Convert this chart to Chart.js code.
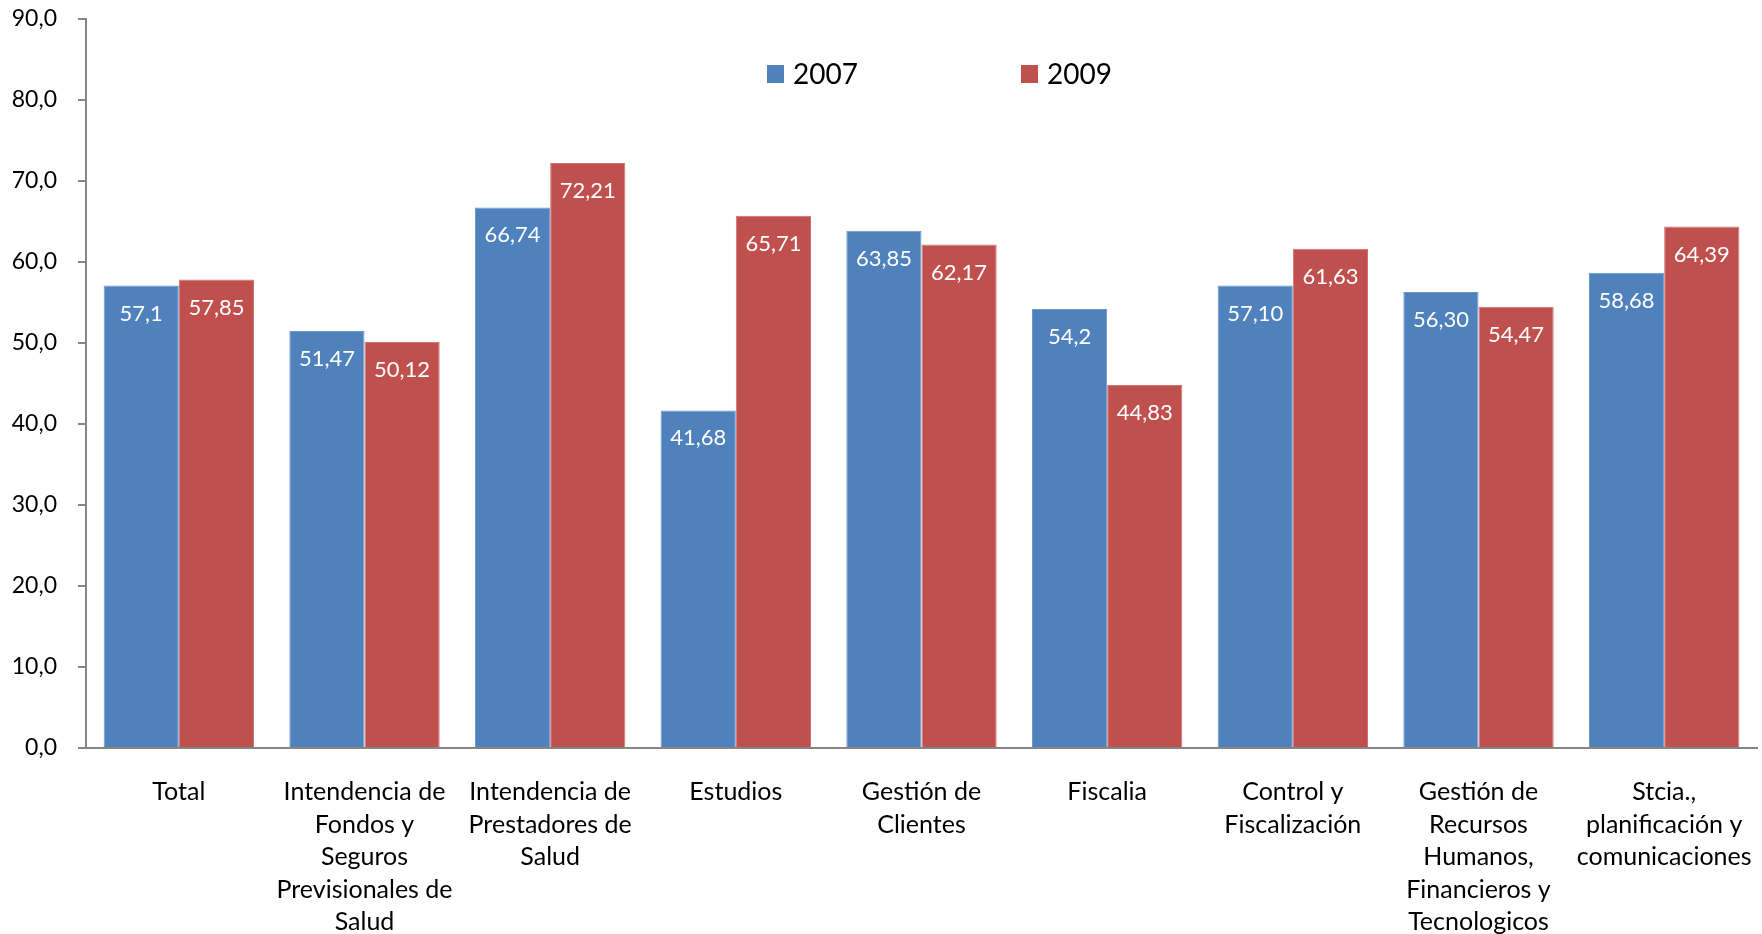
<!DOCTYPE html>
<html>
<head>
<meta charset="utf-8">
<script src="https://cdn.jsdelivr.net/npm/chart.js@4/dist/chart.umd.min.js"></script>
<style>
  html, body { margin: 0; padding: 0; background: #fff; }
  #grafico { display: block; }
</style>
</head>
<body>
<canvas id="grafico" width="1762" height="934"></canvas>
<script>
const unidades = [
    ["Total"],
    ["Intendencia de", "Fondos y", "Seguros", "Previsionales de", "Salud"],
    ["Intendencia de", "Prestadores de", "Salud"],
    ["Estudios"],
    ["Gestión de", "Clientes"],
    ["Fiscalia"],
    ["Control y", "Fiscalización"],
    ["Gestión de", "Recursos", "Humanos,", "Financieros y", "Tecnologicos"],
    ["Stcia.,", "planificación y", "comunicaciones"]
];

// valores tal como aparecen en las etiquetas
const etiquetas2007 = ["57,1", "51,47", "66,74", "41,68", "63,85", "54,2", "57,10", "56,30", "58,68"];
const etiquetas2009 = ["57,85", "50,12", "72,21", "65,71", "62,17", "44,83", "61,63", "54,47", "64,39"];

const series = ["2007", "2009"];
const colores = ["#4F81BD", "#C0504D"];

const FUENTE = "Lato, 'Open Sans', sans-serif";

const aNumero = s => parseFloat(s.replace(",", "."));

const etiquetasBarras = {
    id: "etiquetasBarras",
    afterDatasetsDraw(chart) {
        const { ctx } = chart;
        ctx.save();
        ctx.fillStyle = "#fff";
        ctx.font = `22px ${FUENTE}`;
        ctx.textAlign = "center";
        ctx.textBaseline = "middle";
        chart.data.datasets.forEach((ds, i) => {
            const meta = chart.getDatasetMeta(i);
            meta.data.forEach((bar, j) => {
                ctx.fillText(ds.textos[j], bar.x, bar.y + 28);
            });
        });
        ctx.restore();
    }
};

// leyenda dentro del área del gráfico
const leyenda = {
    id: "leyenda",
    afterDraw(chart) {
        const { ctx } = chart;
        const posX = [767, 1021];
        const y = 74;
        ctx.save();
        ctx.font = `28px ${FUENTE}`;
        ctx.textBaseline = "middle";
        ctx.textAlign = "left";
        chart.data.datasets.forEach((ds, i) => {
            ctx.fillStyle = ds.backgroundColor;
            ctx.fillRect(posX[i], y - 9, 17, 18);
            ctx.fillStyle = "#000";
            ctx.fillText(ds.label, posX[i] + 26, y + 1);
        });
        ctx.restore();
    }
};

new Chart(document.getElementById("grafico"), {
    type: "bar",
    plugins: [etiquetasBarras, leyenda],
    data: {
        labels: unidades,
        datasets: [
            {
                label: series[0],
                data: etiquetas2007.map(aNumero),
                textos: etiquetas2007,
                backgroundColor: colores[0],
                borderColor: "#6C97CB",
                borderWidth: 1
            },
            {
                label: series[1],
                data: etiquetas2009.map(aNumero),
                textos: etiquetas2009,
                backgroundColor: colores[1],
                borderColor: "#D07370",
                borderWidth: 1
            }
        ]
    },
    options: {
        responsive: false,
        animation: false,
        layout: { padding: { top: 19, right: 5, left: 0, bottom: 0 } },
        datasets: {
            bar: { categoryPercentage: 0.81, barPercentage: 1.0 }
        },
        plugins: {
            legend: { display: false },
            tooltip: { enabled: false },
            title: { display: false }
        },
        scales: {
            x: {
                afterFit(scale) {
                    scale.height = 186;
                    scale.paddingLeft = 0;
                    scale.paddingRight = 0;
                },
                grid: { display: false, drawTicks: false },
                border: { color: "#868686", width: 2 },
                ticks: {
                    autoSkip: false,
                    maxRotation: 0,
                    minRotation: 0,
                    padding: 28,
                    color: "#000",
                    font: { family: FUENTE, size: 25, lineHeight: 1.3 }
                }
            },
            y: {
                min: 0,
                max: 90,
                afterFit(scale) {
                    scale.width = 86;
                    scale.paddingTop = 0;
                    scale.paddingBottom = 0;
                },
                grid: {
                    drawOnChartArea: false,
                    drawTicks: true,
                    tickLength: 8,
                    color: "#868686",
                    lineWidth: 2
                },
                border: { color: "#868686", width: 2 },
                ticks: {
                    stepSize: 10,
                    padding: 21,
                    color: "#000",
                    font: { family: FUENTE, size: 23 },
                    callback: v => v.toFixed(1).replace(".", ",")
                }
            }
        }
    }
});
</script>
</body>
</html>
